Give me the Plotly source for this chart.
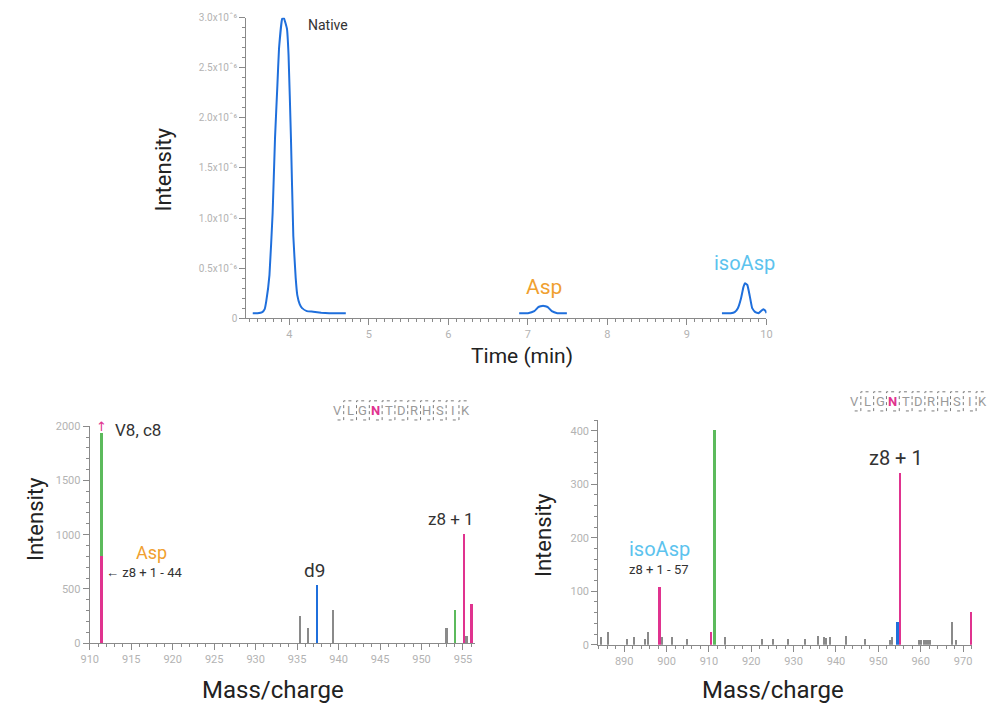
import plotly.graph_objects as go

# ---------------- data ----------------
# Chromatogram (time in min, intensity in units of 1e6)
native_t = [3.54, 3.60, 3.66, 3.69, 3.71, 3.75, 3.79, 3.82, 3.85, 3.87, 3.91, 3.93, 3.97, 3.99,
            4.02, 4.05, 4.08, 4.10, 4.13, 4.16, 4.22, 4.30, 4.40, 4.50, 4.71]
native_i = [0.05, 0.05, 0.06, 0.09, 0.17, 0.43, 1.05, 1.80, 2.33, 2.69, 2.99, 3.00, 2.89, 2.63,
            1.81, 0.82, 0.40, 0.23, 0.14, 0.10, 0.07, 0.065, 0.055, 0.05, 0.05]
asp_t = [6.89, 7.00, 7.08, 7.13, 7.19, 7.25, 7.30, 7.37, 7.49]
asp_i = [0.05, 0.05, 0.07, 0.11, 0.125, 0.11, 0.07, 0.05, 0.05]
iso_t = [9.44, 9.55, 9.60, 9.64, 9.68, 9.71, 9.73, 9.76, 9.79, 9.82, 9.86, 9.90, 9.93, 9.96, 9.99, 10.0]
iso_i = [0.05, 0.05, 0.06, 0.10, 0.20, 0.31, 0.35, 0.33, 0.22, 0.10, 0.06, 0.05, 0.07, 0.09, 0.07, 0.05]

top_ytick_vals = [0, 0.5e6, 1.0e6, 1.5e6, 2.0e6, 2.5e6, 3.0e6]
top_ytick_text = ["0", "0.5x10ˆ⁶", "1.0x10ˆ⁶", "1.5x10ˆ⁶", "2.0x10ˆ⁶", "2.5x10ˆ⁶", "3.0x10ˆ⁶"]

# Bottom-left spectrum (Asp)
bl_gray_mz = [935.3, 936.3, 939.3, 953.0, 955.4]
bl_gray_int = [250, 135, 300, 135, 65]
bl_green_mz = [911.4, 954.0]
bl_green_int = [1940, 300]
bl_blue_mz = [937.4]
bl_blue_int = [535]
bl_mag_mz = [911.4, 955.1, 956.0]
bl_mag_int = [800, 1005, 360]

# Bottom-right spectrum (isoAsp)
br_gray_mz = [884.65, 886.4, 890.7, 892.4, 894.96, 895.7, 899.15, 901.5, 905.0, 913.9, 922.6, 925.2,
              928.8, 932.7, 935.8, 937.2, 937.8, 938.7, 942.4, 947.05, 952.9, 953.4, 959.8, 960.3,
              960.8, 961.3, 961.8, 962.3, 967.6, 968.5]
br_gray_int = [15, 23, 10, 15, 10, 23, 15, 15, 10, 15, 10, 10,
               10, 10, 17, 15, 12, 15, 17, 10, 8, 15, 8, 8,
               8, 8, 8, 8, 42, 8]
br_green_mz = [911.4]
br_green_int = [402]
br_blue_mz = [954.6]
br_blue_int = [42]
br_mag_mz = [898.4, 910.6, 955.2, 971.9]
br_mag_int = [108, 23, 321, 61]

sequence = ["V", "L", "G", "N", "T", "D", "R", "H", "S", "I", "K"]

# ---------------- styles ----------------
BLUE_LINE = "#1f6fdc"
GRAY = "#8a8a8a"
GREEN = "#5cba5c"
BLUE = "#1f6fdc"
MAGENTA = "#e0338f"
ORANGE = "#f0a030"
SKY = "#5cc3ee"
FONT = "Roboto"
W, H = 1002, 710

fig = go.Figure()

# top chromatogram
fig.add_trace(go.Scatter(
    x=native_t + [None] + asp_t + [None] + iso_t,
    y=[v * 1e6 for v in native_i] + [None] + [v * 1e6 for v in asp_i] + [None] + [v * 1e6 for v in iso_i],
    mode="lines", line=dict(color=BLUE_LINE, width=2, shape="spline", smoothing=0.3),
    connectgaps=False, xaxis="x", yaxis="y", showlegend=False, hoverinfo="skip"))


def bars(xs, ys, color, width, xa, ya):
    fig.add_trace(go.Bar(x=xs, y=ys, width=width, marker=dict(color=color, line=dict(width=0)),
                         xaxis=xa, yaxis=ya, showlegend=False, hoverinfo="skip"))


bars(bl_gray_mz, bl_gray_int, GRAY, 0.28, "x2", "y2")
bars(bl_green_mz, bl_green_int, GREEN, 0.28, "x2", "y2")
bars(bl_blue_mz, bl_blue_int, BLUE, 0.3, "x2", "y2")
bars(bl_mag_mz, bl_mag_int, MAGENTA, 0.34, "x2", "y2")

bars(br_gray_mz, br_gray_int, GRAY, 0.3, "x3", "y3")
bars(br_green_mz, br_green_int, GREEN, 0.5, "x3", "y3")
bars(br_blue_mz, br_blue_int, BLUE, 0.5, "x3", "y3")
bars(br_mag_mz, br_mag_int, MAGENTA, 0.55, "x3", "y3")

base_axis = dict(showline=True, linecolor=GRAY, linewidth=1.2, ticks="outside", tickcolor=GRAY,
                 ticklen=6, tickwidth=1, showgrid=False, zeroline=False, fixedrange=True,
                 tickfont=dict(family=FONT, size=11, color="#b3b3b3"))


def ax(**kw):
    d = dict(base_axis)
    d.update(kw)
    return d


def py(p):
    return 1 - p / H


def px(p):
    return p / W


fig.update_layout(
    width=W, height=H, margin=dict(l=0, r=0, t=0, b=0),
    paper_bgcolor="white", plot_bgcolor="white", barmode="overlay", bargap=0,
    font=dict(family=FONT),
    xaxis=ax(domain=[px(241), px(769)], range=[3.46, 10.0], anchor="y", tickmode="linear", tick0=0, dtick=1,
             minor=dict(ticks="outside", ticklen=3, tickcolor=GRAY, dtick=0.1, tick0=0)),
    yaxis=ax(domain=[py(318), py(12)], range=[0, 3.0e6], anchor="x", tickvals=top_ytick_vals,
             ticktext=top_ytick_text, tickfont=dict(family=FONT, size=10, color="#b3b3b3"),
             minor=dict(ticks="outside", ticklen=3, tickcolor=GRAY, dtick=1e5, tick0=0)),
    xaxis2=ax(domain=[px(82), px(473.5)], range=[910, 956.5], anchor="y2", tickmode="linear", tick0=910, dtick=5,
              minor=dict(ticks="outside", ticklen=3, tickcolor=GRAY, dtick=1, tick0=910)),
    yaxis2=ax(domain=[py(649), py(428)], range=[0, 2000], anchor="x2", tickmode="linear", tick0=0, dtick=500,
              minor=dict(ticks="outside", ticklen=3, tickcolor=GRAY, dtick=100, tick0=0)),
    xaxis3=ax(domain=[px(598.3), px(978)], range=[883.9, 972.2], anchor="y3", tickmode="linear", tick0=890, dtick=10,
              minor=dict(ticks="outside", ticklen=3, tickcolor=GRAY, dtick=2, tick0=890)),
    yaxis3=ax(domain=[py(650.7), py(421.8)], range=[0, 420], anchor="x3", tickmode="linear", tick0=0, dtick=100,
              minor=dict(ticks="outside", ticklen=3, tickcolor=GRAY, dtick=20, tick0=0)),
)

ann = []
# axis titles
ann.append(dict(text="Intensity", x=px(157), y=py(167), xref="paper", yref="paper", textangle=-90,
                showarrow=False, font=dict(size=22, color="#222", family=FONT), xanchor="center", yanchor="middle"))
ann.append(dict(text="Time (min)", x=px(521), y=py(357), xref="paper", yref="paper",
                showarrow=False, font=dict(size=21, color="#222", family=FONT), xanchor="center", yanchor="middle"))
ann.append(dict(text="Intensity", x=px(27), y=py(523), xref="paper", yref="paper", textangle=-90,
                showarrow=False, font=dict(size=22, color="#222", family=FONT), xanchor="center", yanchor="middle"))
ann.append(dict(text="Intensity", x=px(542), y=py(539), xref="paper", yref="paper", textangle=-90,
                showarrow=False, font=dict(size=22, color="#222", family=FONT), xanchor="center", yanchor="middle"))
ann.append(dict(text="Mass/charge", x=px(268.5), y=py(697), xref="paper", yref="paper",
                showarrow=False, font=dict(size=24, color="#222", family=FONT), xanchor="center", yanchor="middle"))
ann.append(dict(text="Mass/charge", x=px(775.5), y=py(697), xref="paper", yref="paper",
                showarrow=False, font=dict(size=24, color="#222", family=FONT), xanchor="center", yanchor="middle"))

# top labels
ann.append(dict(text="Native", x=4.48, y=2.93e6, xref="x", yref="y", showarrow=False,
                font=dict(size=14, color="#333", family=FONT)))
ann.append(dict(text="Asp", x=7.20, y=0.31e6, xref="x", yref="y", showarrow=False,
                font=dict(size=21, color=ORANGE, family=FONT)))
ann.append(dict(text="isoAsp", x=9.72, y=0.55e6, xref="x", yref="y", showarrow=False,
                font=dict(size=20, color=SKY, family=FONT)))

# bottom-left labels
ann.append(dict(text="V8, c8", x=912.8, y=1968, xref="x2", yref="y2", showarrow=False, xanchor="left",
                font=dict(size=17, color="#333", family=FONT)))
ann.append(dict(text="Asp", x=917.5, y=837, xref="x2", yref="y2", showarrow=False,
                font=dict(size=18, color=ORANGE, family=FONT)))
ann.append(dict(text="← z8 + 1 - 44", x=911.66, y=654, xref="x2", yref="y2", showarrow=False, xanchor="left",
                font=dict(size=13, color="#333", family=FONT)))
ann.append(dict(text="d9", x=937.1, y=670, xref="x2", yref="y2", showarrow=False,
                font=dict(size=19, color="#333", family=FONT)))
ann.append(dict(text="z8 + 1", x=953.6, y=1145, xref="x2", yref="y2", showarrow=False,
                font=dict(size=17, color="#333", family=FONT)))
ann.append(dict(text="↑", x=911.4, y=1998, xref="x2", yref="y2", showarrow=False, yanchor="middle",
                font=dict(size=13, color=MAGENTA, family="DejaVu Sans")))

# bottom-right labels
ann.append(dict(text="V8, c8", x=913.9, y=428, xref="x3", yref="y3", showarrow=False,
                font=dict(size=20, color="#333", family=FONT)))
ann.append(dict(text="z8 + 1", x=954.1, y=350, xref="x3", yref="y3", showarrow=False,
                font=dict(size=20, color="#333", family=FONT)))
ann.append(dict(text="isoAsp", x=898.3, y=179, xref="x3", yref="y3", showarrow=False,
                font=dict(size=20, color=SKY, family=FONT)))
ann.append(dict(text="z8 + 1 - 57", x=898.3, y=141, xref="x3", yref="y3", showarrow=False,
                font=dict(size=13, color="#333", family=FONT)))

# peptide sequences with fragmentation brackets
shapes = []
for (x0, yc) in [(333.3, 411.7), (858.3, 402.5)]:
    step = 13.0
    for i, ch in enumerate(sequence):
        is_n = ch == "N"
        ann.append(dict(text=("<b>%s</b>" % ch) if is_n else ch, x=px(x0 + i * step), y=py(yc),
                        xref="paper", yref="paper", showarrow=False, xanchor="center", yanchor="middle",
                        font=dict(size=13, color=MAGENTA if is_n else "#9a9a9a", family=FONT)))
    ytop, ybot = yc - 9.5, yc + 10.0
    for i in range(len(sequence) - 1):
        gx = x0 + i * step + step / 2
        path = "M %f,%f L %f,%f L %f,%f L %f,%f" % (
            px(gx + step * 0.6), py(ytop), px(gx), py(ytop), px(gx), py(ybot), px(gx - step * 0.6), py(ybot))
        shapes.append(dict(type="path", path=path, xref="paper", yref="paper",
                           line=dict(color="#7a7a7a", width=1, dash="dot")))

fig.update_layout(annotations=ann, shapes=shapes)
fig.write_html("out.html", config={"displayModeBar": False},
               post_script="document.body.style.margin='0px';")
